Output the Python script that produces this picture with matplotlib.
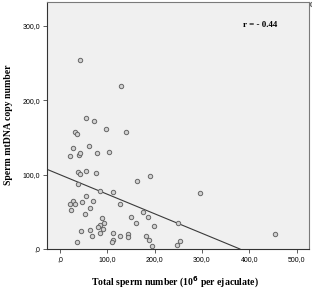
import matplotlib
matplotlib.use("Agg")
import matplotlib.pyplot as plt
from matplotlib.ticker import FuncFormatter

# total sperm number (10^6 per ejaculate) and sperm mtDNA copy number
sperm_count = [42, 130, 55, 73, 98, 32, 37, 140,
               28, 62, 22, 40, 42, 78, 104,
               38, 42, 55, 77, 163, 190, 39, 85, 113, 55, 128,
               27.5, 22, 32, 46, 70, 23, 63, 53, 176, 187, 150,
               89, 94, 160, 85, 80, 198, 44, 63, 92, 85, 69, 113,
               127, 144, 144, 183, 189, 195, 37, 112, 110.5,
               295, 249, 253, 248, 455, 533]
mtdna_copy = [254.6, 219, 176, 172, 161, 157, 155, 157,
              136, 138, 125, 127, 129, 128.5, 131,
              104, 101, 105, 102, 92, 98, 87, 78, 76, 71, 61,
              64, 60, 60, 63, 65, 52, 55, 47, 50, 42.5, 42.5,
              41, 35, 34.5, 32, 30, 31, 24, 25.5, 26.5, 21.5, 18, 22,
              17.5, 20, 16.5, 18, 11.7, 4, 10, 12.5, 9,
              75, 34.5, 10.7, 5, 20, 329]

# fit line
fit_intercept = 100.0
fit_slope = -0.263
r_text = "r = - 0.44"

x_ticks = [0, 100, 200, 300, 400, 500]
y_ticks = [0, 100, 200, 300]


def spss_fmt(v, pos):
    s = f"{v:.1f}".replace(".", ",")
    return s[1:] if s.startswith("0,") else s


fig = plt.figure(figsize=(3.12, 2.90), dpi=100)
ax = fig.add_axes([47 / 312, 41 / 290, 262 / 312, 247 / 290])
ax.set_facecolor("#f0f0f0")

ax.scatter(sperm_count, mtdna_copy, s=10, facecolor="#d2d2d2",
           edgecolor="#666666", linewidth=0.7, zorder=3, clip_on=False)
ax.axline((0, fit_intercept), slope=fit_slope, color="#3a3a3a", lw=0.8, zorder=2)

ax.set_xlim(-27, 526)
ax.set_ylim(0, 332)
ax.set_xticks(x_ticks)
ax.set_yticks(y_ticks)
ax.xaxis.set_major_formatter(FuncFormatter(spss_fmt))
ax.yaxis.set_major_formatter(FuncFormatter(spss_fmt))
ax.tick_params(length=3, width=0.6, color="#444444", labelsize=5, pad=2)
for lab in ax.get_xticklabels() + ax.get_yticklabels():
    lab.set_family("Liberation Sans")

for sp in ax.spines.values():
    sp.set_color("#7a7a7a")
    sp.set_linewidth(0.8)
ax.spines["left"].set_color("#333333")
ax.spines["bottom"].set_color("#333333")

ax.text(0.815, 0.905, r_text, transform=ax.transAxes, ha="center", va="center",
        family="Liberation Serif", weight="bold", fontsize=6.5)

fig.text(175 / 312, 1 - 282 / 290, "Total sperm number (10$^{\\mathbf{6}}$ per ejaculate)",
         ha="center", va="center", family="Liberation Serif", weight="bold", fontsize=7)
fig.text(9 / 312, 1 - 125 / 290, "Sperm mtDNA copy number", rotation=90,
         ha="center", va="center", family="Liberation Serif", weight="bold", fontsize=7)

fig.savefig("out.png", dpi=100)
